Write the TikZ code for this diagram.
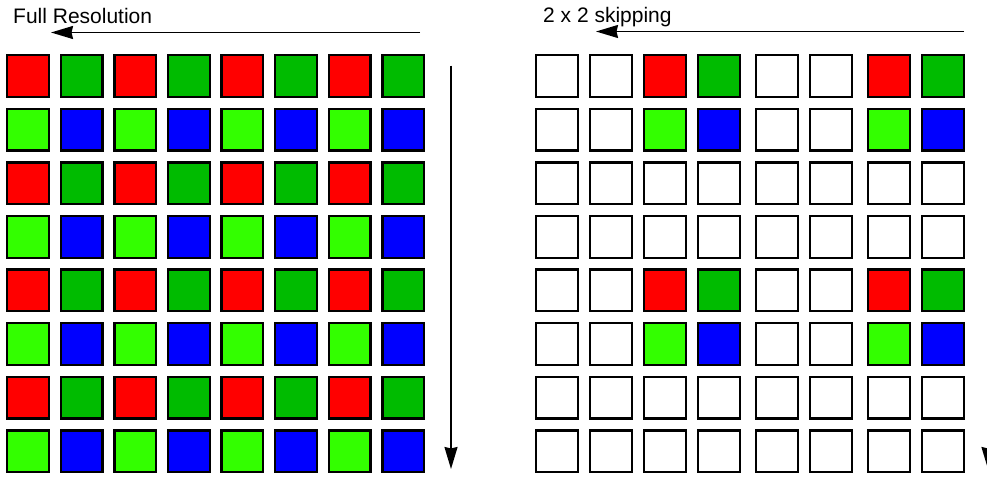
\documentclass[tikz,border=0pt]{standalone}
\usepackage{fontspec}
\setmainfont{Liberation Sans}
\usetikzlibrary{arrows.meta}
\definecolor{cred}{RGB}{255,0,0}
\definecolor{cdg}{RGB}{0,187,0}
\definecolor{clg}{RGB}{51,255,0}
\definecolor{cbl}{RGB}{0,0,255}
\begin{document}
\begin{tikzpicture}[x=1pt,y=-1pt,
  cell/.style={draw=black, line width=2.3pt, minimum size=41.7pt, inner sep=0pt, outer sep=0pt},
  lbl/.style={font=\fontsize{21}{24}\selectfont, anchor=base west, inner sep=0pt},
  flow/.style={line width=1.7pt, -{Stealth[length=22pt,width=13pt,inset=1.5pt]}}]
\useasboundingbox (0,0) rectangle (987,479);
% labels
\node[lbl] (t1) at (13,23.3) {Full Resolution};
\node[lbl] (t2) at (543,22) {2 x 2 skipping};
% left grid
\foreach \r in {0,...,7}{
  \foreach \c in {0,...,7}{
    \pgfmathtruncatemacro\rp{mod(\r,2)}
    \pgfmathtruncatemacro\cp{mod(\c,2)}
    \ifnum\rp=0 \ifnum\cp=0 \def\col{cred}\else\def\col{cdg}\fi
    \else \ifnum\cp=0 \def\col{clg}\else\def\col{cbl}\fi\fi
    \node[cell, fill=\col] (L-\r-\c) at ({28+53.6*\c},{76+53.6*\r}) {};
  }
}
% right grid
\foreach \r in {0,...,7}{
  \foreach \c/\x in {0/557,1/611,2/665,3/719,4/777,5/831,6/889,7/943}{
    \pgfmathtruncatemacro\rp{mod(\r,2)}
    \pgfmathtruncatemacro\cp{mod(\c,2)}
    \pgfmathtruncatemacro\rq{mod(\r,4)<2 ? 1 : 0}
    \pgfmathtruncatemacro\cq{mod(\c,4)>1 ? 1 : 0}
    \pgfmathtruncatemacro\on{\rq*\cq}
    \ifnum\on=1
      \ifnum\rp=0 \ifnum\cp=0 \def\col{cred}\else\def\col{cdg}\fi
      \else \ifnum\cp=0 \def\col{clg}\else\def\col{cbl}\fi\fi
    \else \def\col{white}\fi
    \node[cell, fill=\col] (R-\r-\c) at ({\x},{76+53.6*\r}) {};
  }
}
% arrows
\coordinate (lhs) at (420,32.5);
\coordinate (lhe) at (51,32.5);
\coordinate (rhs) at (964,31.5);
\coordinate (rhe) at (596,31.5);
\coordinate (lvs) at (451,65.7);
\coordinate (lve) at (451,469);
\coordinate (rvs) at (988,65.7);
\coordinate (rve) at (988,469);
\draw[flow] (lhs) -- (lhe);
\draw[flow] (rhs) -- (rhe);
\draw[flow] (lvs) -- (lve);
\draw[flow] (rvs) -- (rve);
\end{tikzpicture}
\end{document}
